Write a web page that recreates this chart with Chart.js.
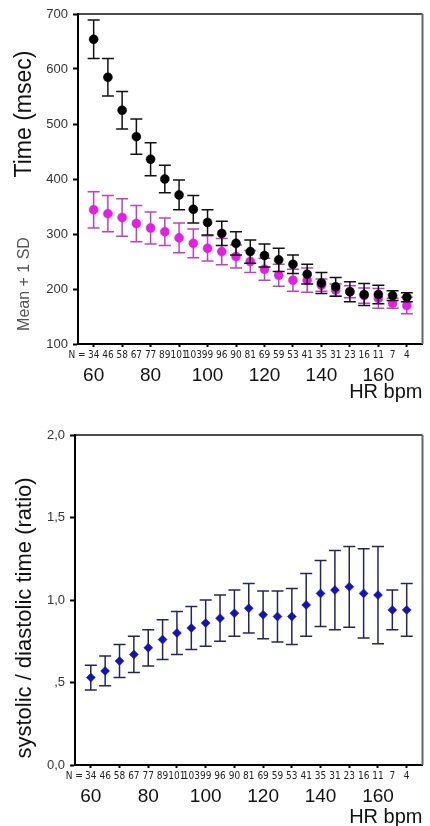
<!DOCTYPE html>
<html><head><meta charset="utf-8">
<script src="https://cdn.jsdelivr.net/npm/chart.js@4.4.1/dist/chart.umd.min.js"></script>
<style>
html,body{margin:0;padding:0;background:#fff;}
#wrap{position:relative;width:430px;height:826px;overflow:hidden;}
.box{position:absolute;left:0;width:430px;}
#b1{top:0;height:404px;}
#b2{top:404px;height:422px;}
canvas{display:block;}
</style></head><body>
<div id="wrap"><div class="box" id="b1"><canvas id="c1"></canvas></div><div class="box" id="b2"><canvas id="c2"></canvas></div></div>
<script>
// ---- data ----
const hrBpm = [60,65,70,75,80,85,90,95,100,105,110,115,120,125,130,135,140,145,150,155,160,165,170];
const nCounts = [34,46,58,67,77,89,101,103,99,96,90,81,69,59,53,41,35,31,23,16,11,7,4];
const xTickValues = [60,80,100,120,140,160];
const timeTicks = [100,200,300,400,500,600,700];
const ratioTicks = [0,0.5,1,1.5,2];
const ratioTickLabels = ['0,0',',5','1,0','1,5','2,0'];

const blackMean = [654,585,525,477,436,400,371,345,321,301,283,268,261,253,245,227,211,204,195,190,190,188,185];
const blackSD   = [35,34,34,32,30,25,27,25,23,22,21,21,21,21,17,18,19,17,18,20,17,9,8];
const magentaMean = [344,337,330,319,311,304,293,283,274,268,259,250,236,225,216,216,207,198,195,188,183,174,170];
const magentaSD   = [33,33,34,33,29,25,27,26,23,24,21,20,20,20,20,22,11,11,11,14,18,9,15];
const ratioMean = [0.53,0.57,0.63,0.67,0.71,0.76,0.80,0.83,0.86,0.89,0.92,0.95,0.91,0.90,0.90,0.97,1.04,1.06,1.08,1.04,1.03,0.94,0.94];
const ratioSD   = [0.075,0.09,0.10,0.11,0.11,0.12,0.13,0.13,0.14,0.14,0.14,0.15,0.145,0.155,0.17,0.19,0.20,0.24,0.245,0.27,0.295,0.12,0.16];

// ---- helpers ----
Chart.defaults.font.family = "'Liberation Sans', Arial, sans-serif";
const NARROW = "'Liberation Sans Narrow', 'Arial Narrow', 'DejaVu Sans Condensed', sans-serif";
const pts = m => hrBpm.map((h,i)=>({x:h,y:m[i]}));
const whisker = (m,s) => hrBpm.flatMap((h,i)=>[{x:h,y:m[i]-s[i]},{x:h,y:m[i]+s[i]},{x:h,y:null}]);
const caps = (m,s) => hrBpm.flatMap((h,i)=>[{x:h,y:m[i]-s[i]},{x:h,y:m[i]+s[i]}]);

function seriesSets(mean, sd, pointColor, barColor, baseOrder, style, radius){
  return [
    {type:'scatter', data:pts(mean), pointStyle:style, pointRadius:radius, backgroundColor:pointColor, borderColor:pointColor, borderWidth:0.5, order:baseOrder},
    {type:'line', data:whisker(mean,sd), borderColor:barColor, borderWidth:1.5, pointRadius:0, spanGaps:false, tension:0, fill:false, order:baseOrder+1},
    {type:'scatter', data:caps(mean,sd), pointStyle:'line', pointRadius:6, borderColor:barColor, borderWidth:1.5, order:baseOrder+1}
  ];
}

function makeDecor(titles){
  return {
    id:'decor',
    afterDraw(chart){
      const {ctx, chartArea:a} = chart;
      ctx.save();
      ctx.strokeStyle='#111'; ctx.lineWidth=1.5;
      ctx.beginPath(); ctx.moveTo(a.left,a.top); ctx.lineTo(a.right,a.top); ctx.stroke();
      ctx.strokeStyle='#666'; ctx.lineWidth=2;
      ctx.beginPath(); ctx.moveTo(a.right,a.top); ctx.lineTo(a.right,a.bottom); ctx.stroke();
      titles.forEach(t=>{
        ctx.save();
        ctx.translate(t.x, a.top + t.dy);
        ctx.rotate(-Math.PI/2);
        ctx.font = t.font; ctx.fillStyle = t.color;
        ctx.textAlign='center'; ctx.textBaseline='middle';
        ctx.fillText(t.text,0,0);
        ctx.restore();
      });
      const xs = chart.scales.xN;
      ctx.font = "10px " + NARROW; ctx.fillStyle='#222';
      ctx.textAlign='right'; ctx.textBaseline='middle';
      ctx.fillText('N =', xs.getPixelForValue(hrBpm[0]) - 8, xs.top + 11);
      ctx.restore();
    }
  };
}

function xScales(titleLH, mainH){
  return {
    xN: {type:'linear', position:'bottom', weight:0, min:54.5, max:175.5, offset:false,
      afterBuildTicks: s=>{ s.ticks = hrBpm.map(v=>({value:v})); },
      grid:{drawOnChartArea:false, drawTicks:true, tickLength:3, tickWidth:2,
        tickColor: c => (c.tick && c.tick.value % 10 === 0) ? '#000' : 'rgba(0,0,0,0)'},
      border:{display:true, color:'#000', width:2},
      ticks:{font:{size:10, family:NARROW}, color:'#222', padding:2, autoSkip:false, maxRotation:0,
        callback: v => String(nCounts[hrBpm.indexOf(v)])},
      afterFit: s=>{ s.height = 20; }
    },
    x: {type:'linear', position:'bottom', weight:1, min:54.5, max:175.5, offset:false,
      afterBuildTicks: s=>{ s.ticks = xTickValues.map(v=>({value:v})); },
      grid:{display:false, drawOnChartArea:false, drawTicks:false},
      border:{display:false},
      ticks:{font:{size:19}, color:'#111', padding:0, autoSkip:false, maxRotation:0, callback: v=>String(v)},
      title:{display:true, text:'HR bpm', align:'end', color:'#111', font:{size:20, lineHeight:titleLH}, padding:0},
      afterFit: s=>{ s.height = mainH; }
    }
  };
}

// ---- top chart ----
new Chart(document.getElementById('c1'), {
  type:'scatter',
  data:{datasets:[
    ...seriesSets(blackMean, blackSD, '#000', '#111', 0, 'circle', 4.5),
    ...seriesSets(magentaMean, magentaSD, '#e41ee4', '#c040c0', 2, 'circle', 4.5)
  ]},
  options:{
    responsive:true, maintainAspectRatio:false, animation:false, devicePixelRatio:1,
    layout:{padding:{top:14, right:7, left:0, bottom:0}},
    plugins:{legend:{display:false}, tooltip:{enabled:false}},
    scales:{
      ...xScales(1.2, 40),
      y:{type:'linear', min:100, max:700,
        afterBuildTicks: s=>{ s.ticks = timeTicks.map(v=>({value:v})); },
        grid:{drawOnChartArea:false, tickLength:5, tickWidth:2, tickColor:'#000'},
        border:{color:'#000', width:2},
        ticks:{font:{size:13}, color:'#333', padding:5, callback: v=>String(v)},
        afterFit: s=>{ s.width = 78; }
      }
    }
  },
  plugins:[makeDecor([
    {text:'Time (msec)', x:25, dy:100, font:"23px 'Liberation Sans', Arial, sans-serif", color:'#111'},
    {text:'Mean + 1 SD', x:25, dy:270, font:"16px 'Liberation Sans', Arial, sans-serif", color:'#555'}
  ])]
});

// ---- bottom chart ----
new Chart(document.getElementById('c2'), {
  type:'scatter',
  data:{datasets:[
    ...seriesSets(ratioMean, ratioSD, '#1414b4', '#24245e', 0, 'rectRot', 4.5)
  ]},
  options:{
    responsive:true, maintainAspectRatio:false, animation:false, devicePixelRatio:1,
    layout:{padding:{top:31, right:7, left:0, bottom:0}},
    plugins:{legend:{display:false}, tooltip:{enabled:false}},
    scales:{
      ...xScales(0.9, 41),
      y:{type:'linear', min:0, max:2,
        afterBuildTicks: s=>{ s.ticks = ratioTicks.map(v=>({value:v})); },
        grid:{drawOnChartArea:false, tickLength:5, tickWidth:2, tickColor:'#000'},
        border:{color:'#000', width:2},
        ticks:{font:{size:13}, color:'#333', padding:5, callback: v=>ratioTickLabels[ratioTicks.indexOf(v)]},
        afterFit: s=>{ s.width = 75; }
      }
    }
  },
  plugins:[makeDecor([
    {text:'systolic / diastolic time (ratio)', x:25, dy:183, font:"22px 'Liberation Sans', Arial, sans-serif", color:'#111'}
  ])]
});
</script>
</body></html>
